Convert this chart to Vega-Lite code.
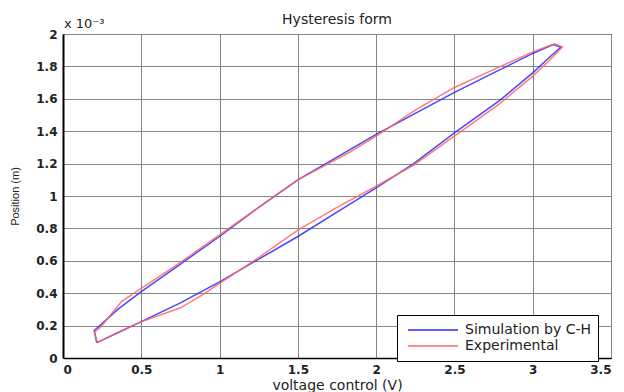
{
  "$schema": "https://vega.github.io/schema/vega-lite/v6.json",
  "width": 548,
  "height": 324,
  "autosize": "none",
  "padding": {"left": 63, "top": 34, "right": 13, "bottom": 34},
  "background": "white",
  "config": {
    "font": "DejaVu Sans",
    "view": {"stroke": "black", "strokeWidth": 1},
    "axis": {
      "gridColor": "#858585",
      "gridWidth": 1,
      "gridOpacity": 1,
      "domainColor": "black",
      "ticks": false,
      "labelOverlap": false,
      "labelFont": "DejaVu Sans",
      "labelFontWeight": "bold",
      "labelFontSize": 12,
      "labelColor": "#222222",
      "titleColor": "#222222",
      "titleFontWeight": "normal"
    }
  },
  "title": {
    "text": "Hysteresis form",
    "font": "DejaVu Sans",
    "fontSize": 14,
    "fontWeight": "normal",
    "color": "#222222",
    "baseline": "alphabetic",
    "frame": "group",
    "offset": -20
  },
  "datasets": {
    "loop": [
      {"series": "Simulation by C-H", "i": 1, "voltage": 0.215, "position_mm": 0.095},
      {"series": "Simulation by C-H", "i": 2, "voltage": 0.35, "position_mm": 0.155},
      {"series": "Simulation by C-H", "i": 3, "voltage": 0.49, "position_mm": 0.22},
      {"series": "Simulation by C-H", "i": 4, "voltage": 0.75, "position_mm": 0.34},
      {"series": "Simulation by C-H", "i": 5, "voltage": 1.0, "position_mm": 0.47},
      {"series": "Simulation by C-H", "i": 6, "voltage": 1.25, "position_mm": 0.61},
      {"series": "Simulation by C-H", "i": 7, "voltage": 1.5, "position_mm": 0.75},
      {"series": "Simulation by C-H", "i": 8, "voltage": 1.75, "position_mm": 0.9},
      {"series": "Simulation by C-H", "i": 9, "voltage": 2.0, "position_mm": 1.05},
      {"series": "Simulation by C-H", "i": 10, "voltage": 2.24, "position_mm": 1.2},
      {"series": "Simulation by C-H", "i": 11, "voltage": 2.5, "position_mm": 1.39},
      {"series": "Simulation by C-H", "i": 12, "voltage": 2.79, "position_mm": 1.59},
      {"series": "Simulation by C-H", "i": 13, "voltage": 3.0, "position_mm": 1.76},
      {"series": "Simulation by C-H", "i": 14, "voltage": 3.1, "position_mm": 1.85},
      {"series": "Simulation by C-H", "i": 15, "voltage": 3.18, "position_mm": 1.92},
      {"series": "Simulation by C-H", "i": 16, "voltage": 3.13, "position_mm": 1.935},
      {"series": "Simulation by C-H", "i": 17, "voltage": 3.0, "position_mm": 1.88},
      {"series": "Simulation by C-H", "i": 18, "voltage": 2.75, "position_mm": 1.76},
      {"series": "Simulation by C-H", "i": 19, "voltage": 2.5, "position_mm": 1.64},
      {"series": "Simulation by C-H", "i": 20, "voltage": 2.25, "position_mm": 1.51},
      {"series": "Simulation by C-H", "i": 21, "voltage": 2.0, "position_mm": 1.38},
      {"series": "Simulation by C-H", "i": 22, "voltage": 1.75, "position_mm": 1.24},
      {"series": "Simulation by C-H", "i": 23, "voltage": 1.5, "position_mm": 1.1},
      {"series": "Simulation by C-H", "i": 24, "voltage": 1.25, "position_mm": 0.93},
      {"series": "Simulation by C-H", "i": 25, "voltage": 1.0, "position_mm": 0.75},
      {"series": "Simulation by C-H", "i": 26, "voltage": 0.75, "position_mm": 0.58},
      {"series": "Simulation by C-H", "i": 27, "voltage": 0.5, "position_mm": 0.41},
      {"series": "Simulation by C-H", "i": 28, "voltage": 0.35, "position_mm": 0.3},
      {"series": "Simulation by C-H", "i": 29, "voltage": 0.2, "position_mm": 0.17},
      {"series": "Simulation by C-H", "i": 30, "voltage": 0.215, "position_mm": 0.095},
      {"series": "Experimental", "i": 1, "voltage": 0.22, "position_mm": 0.095},
      {"series": "Experimental", "i": 2, "voltage": 0.35, "position_mm": 0.16},
      {"series": "Experimental", "i": 3, "voltage": 0.49, "position_mm": 0.22},
      {"series": "Experimental", "i": 4, "voltage": 0.75, "position_mm": 0.31},
      {"series": "Experimental", "i": 5, "voltage": 0.875, "position_mm": 0.38},
      {"series": "Experimental", "i": 6, "voltage": 1.0, "position_mm": 0.46},
      {"series": "Experimental", "i": 7, "voltage": 1.25, "position_mm": 0.62},
      {"series": "Experimental", "i": 8, "voltage": 1.5, "position_mm": 0.79},
      {"series": "Experimental", "i": 9, "voltage": 1.75, "position_mm": 0.93},
      {"series": "Experimental", "i": 10, "voltage": 2.0, "position_mm": 1.06},
      {"series": "Experimental", "i": 11, "voltage": 2.24, "position_mm": 1.19},
      {"series": "Experimental", "i": 12, "voltage": 2.5, "position_mm": 1.37},
      {"series": "Experimental", "i": 13, "voltage": 2.79, "position_mm": 1.57},
      {"series": "Experimental", "i": 14, "voltage": 3.0, "position_mm": 1.74},
      {"series": "Experimental", "i": 15, "voltage": 3.1, "position_mm": 1.83},
      {"series": "Experimental", "i": 16, "voltage": 3.19, "position_mm": 1.92},
      {"series": "Experimental", "i": 17, "voltage": 3.14, "position_mm": 1.94},
      {"series": "Experimental", "i": 18, "voltage": 3.0, "position_mm": 1.89},
      {"series": "Experimental", "i": 19, "voltage": 2.75, "position_mm": 1.78},
      {"series": "Experimental", "i": 20, "voltage": 2.5, "position_mm": 1.67},
      {"series": "Experimental", "i": 21, "voltage": 2.25, "position_mm": 1.53},
      {"series": "Experimental", "i": 22, "voltage": 2.0, "position_mm": 1.37},
      {"series": "Experimental", "i": 23, "voltage": 1.83, "position_mm": 1.27},
      {"series": "Experimental", "i": 24, "voltage": 1.5, "position_mm": 1.1},
      {"series": "Experimental", "i": 25, "voltage": 1.25, "position_mm": 0.93},
      {"series": "Experimental", "i": 26, "voltage": 1.0, "position_mm": 0.76},
      {"series": "Experimental", "i": 27, "voltage": 0.75, "position_mm": 0.59},
      {"series": "Experimental", "i": 28, "voltage": 0.5, "position_mm": 0.43},
      {"series": "Experimental", "i": 29, "voltage": 0.375, "position_mm": 0.35},
      {"series": "Experimental", "i": 30, "voltage": 0.24, "position_mm": 0.19},
      {"series": "Experimental", "i": 31, "voltage": 0.2, "position_mm": 0.16},
      {"series": "Experimental", "i": 32, "voltage": 0.22, "position_mm": 0.095}
    ],
    "note": [
      {"label": "x 10⁻³", "voltage": 0, "position_mm": 2}
    ]
  },
  "layer": [
    {
      "data": {"name": "loop"},
      "mark": {"type": "line", "strokeWidth": 1.5, "strokeOpacity": 0.85},
      "encoding": {
        "x": {
          "field": "voltage",
          "type": "quantitative",
          "scale": {"domain": [0, 3.5], "nice": false, "zero": false},
          "axis": {
            "values": [0, 0.5, 1, 1.5, 2, 2.5, 3, 3.5],
            "tickCount": 8,
            "format": "~g",
            "labelOverlap": false,
            "labelPadding": 6,
            "domainWidth": 1.5,
            "title": "voltage control (V)",
            "titleFont": "DejaVu Sans",
            "titleFontSize": 14,
            "titleBaseline": "top",
            "titleY": 20
          }
        },
        "y": {
          "field": "position_mm",
          "type": "quantitative",
          "scale": {"domain": [0, 2], "nice": false, "zero": false},
          "axis": {
            "values": [0, 0.2, 0.4, 0.6, 0.8, 1, 1.2, 1.4, 1.6, 1.8, 2],
            "tickCount": 11,
            "format": "~g",
            "labelOverlap": false,
            "labelPadding": 6,
            "domainWidth": 2,
            "title": "Position (m)",
            "titleFont": "Liberation Sans",
            "titleFontSize": 11,
            "titleAngle": -90,
            "titleBaseline": "middle",
            "titleX": -48,
            "titleY": 162
          }
        },
        "color": {
          "field": "series",
          "type": "nominal",
          "sort": ["Simulation by C-H", "Experimental"],
          "scale": {"domain": ["Simulation by C-H", "Experimental"], "range": ["#2828ff", "#ff6464"]},
          "legend": {
            "title": null,
            "orient": "none",
            "legendX": 334,
            "legendY": 281,
            "fillColor": "white",
            "strokeColor": "black",
            "padding": 7,
            "symbolOffset": 3,
            "symbolType": "stroke",
            "symbolSize": 2500,
            "symbolStrokeWidth": 1.5,
            "clipHeight": 16,
            "labelFont": "DejaVu Sans",
            "labelFontSize": 14,
            "labelColor": "#222222",
            "labelOffset": 6,
            "rowPadding": 0
          }
        },
        "order": {"field": "i", "type": "quantitative"}
      }
    },
    {
      "data": {"name": "note"},
      "mark": {"type": "text", "align": "left", "baseline": "alphabetic", "dx": 1, "dy": -6, "fontSize": 13, "color": "#222222", "font": "DejaVu Sans"},
      "encoding": {
        "x": {"field": "voltage", "type": "quantitative"},
        "y": {"field": "position_mm", "type": "quantitative"},
        "text": {"field": "label"}
      }
    }
  ]
}
